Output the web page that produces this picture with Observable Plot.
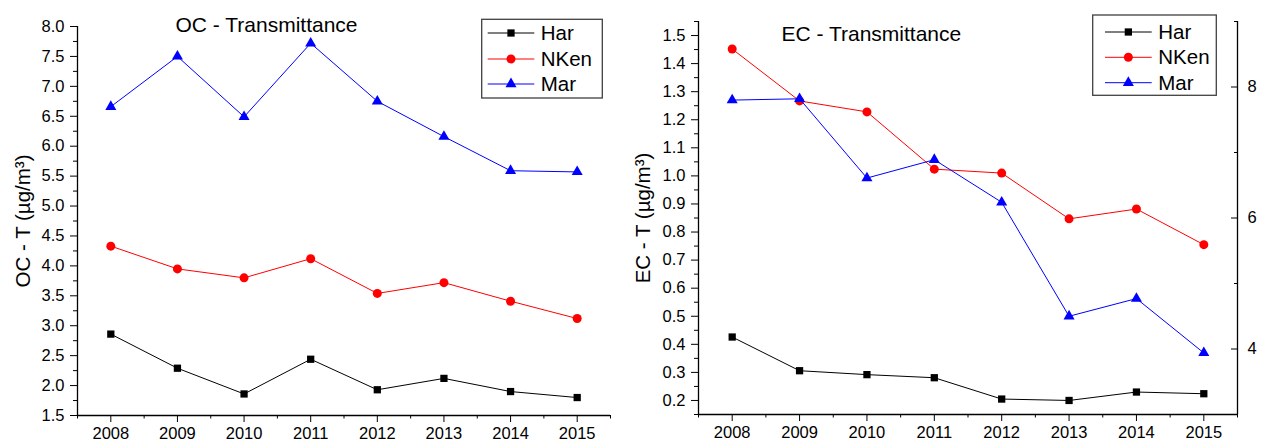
<!DOCTYPE html>
<html>
<head>
<meta charset="utf-8">
<script src="https://cdn.jsdelivr.net/npm/d3@7"></script>
<script src="https://cdn.jsdelivr.net/npm/@observablehq/plot@0.6"></script>
<style>
  html, body { margin: 0; padding: 0; background: #fff; }
  #wrap { position: relative; width: 1263px; height: 441px; overflow: hidden; background: #fff; }
  #oc, #ec { position: absolute; top: 0; }
  #oc { left: 0; }
  #ec { left: 620px; }
</style>
</head>
<body>
<div id="wrap"><div id="oc"></div><div id="ec"></div></div>
<script>
// Annual means, 2008–2015
const years = [2008, 2009, 2010, 2011, 2012, 2013, 2014, 2015];
const sites = ["Har", "NKen", "Mar"];
const siteColors = ["#000000", "#ff0000", "#0000ff"];
const siteSymbols = ["square", "circle", "triangle"];
const siteRadii = [4.1, 4.5, 4.1];

// OC by transmittance (µg/m³)
const ocHar  = [2.86, 2.29, 1.86, 2.44, 1.93, 2.12, 1.90, 1.80];
const ocNKen = [4.33, 3.95, 3.80, 4.12, 3.54, 3.72, 3.41, 3.12];
const ocMar  = [6.66, 7.50, 6.49, 7.72, 6.75, 6.16, 5.59, 5.57];

// EC by transmittance (µg/m³); Mar is read on the right-hand axis
const ecHar  = [0.426, 0.306, 0.292, 0.281, 0.205, 0.200, 0.230, 0.224];
const ecNKen = [1.452, 1.267, 1.228, 1.024, 1.010, 0.847, 0.882, 0.755];
const ecMar  = [7.80, 7.82, 6.61, 6.89, 6.24, 4.50, 4.77, 3.94];

// Axis ticks
const ocTicks = [1.5, 2.0, 2.5, 3.0, 3.5, 4.0, 4.5, 5.0, 5.5, 6.0, 6.5, 7.0, 7.5, 8.0];
const ocMinor = d3.range(7, 32, 2).map(i => i / 4);
const ecTicks = [0.2, 0.3, 0.4, 0.5, 0.6, 0.7, 0.8, 0.9, 1.0, 1.1, 1.2, 1.3, 1.4, 1.5];
const ecMinor = d3.range(3, 32, 2).map(i => i / 20);
const marTicks = [4, 6, 8];
const marMinor = [3, 5, 7, 9];
const yearMinor = d3.range(2007.5, 2016, 1);

const xDomain = [2007.5, 2015.5];
const ocDomain = [1.5, 8.0];
const ecDomain = [0.15, 1.55];
const marDomain = [3, 9];

// right-hand axis values mapped onto the left EC scale
const marToEc = d3.scaleLinear().domain(marDomain).range(ecDomain);

const FONT = "'Liberation Sans', Arial, Helvetica, sans-serif";
const fmt1 = d3.format(".1f");

function rows(values, site) {
  return years.map((year, i) => ({year, site, value: values[i]}));
}

function seriesMarks(seriesList) {
  const out = [];
  seriesList.forEach((data, k) => {
    out.push(Plot.line(data, {x: "year", y: "value", stroke: siteColors[k], strokeWidth: 1}));
    out.push(Plot.dot(data, {x: "year", y: "value", fill: siteColors[k], symbol: siteSymbols[k], r: siteRadii[k]}));
  });
  return out;
}

function xAxisMarks() {
  return [
    Plot.axisX(years, {tickSize: 7, tickPadding: 5, tickFormat: d => String(d), label: null, fontSize: 16.5}),
    Plot.axisX(yearMinor, {tickSize: 3.5, fill: "none", label: null})
  ];
}

function addLegend(svg, box) {
  const g = d3.select(svg).append("g").attr("font-family", FONT).attr("text-anchor", "start");
  g.append("rect")
    .attr("x", box.x).attr("y", box.y).attr("width", box.w).attr("height", box.h)
    .attr("fill", "#fff").attr("stroke", "#404040").attr("stroke-width", 1.3);
  sites.forEach((name, k) => {
    const cy = box.rowY[k];
    g.append("line")
      .attr("x1", box.lineX1).attr("x2", box.lineX2).attr("y1", cy).attr("y2", cy)
      .attr("stroke", siteColors[k]).attr("stroke-width", 1);
    const typ = siteSymbols[k] === "square" ? d3.symbolSquare : siteSymbols[k] === "circle" ? d3.symbolCircle : d3.symbolTriangle;
    g.append("path")
      .attr("d", d3.symbol().type(typ).size(Math.PI * siteRadii[k] * siteRadii[k])())
      .attr("transform", `translate(${(box.lineX1 + box.lineX2) / 2},${cy})`)
      .attr("fill", siteColors[k]);
    g.append("text")
      .attr("x", box.textX).attr("y", cy).attr("dy", "0.35em")
      .attr("text-anchor", "start")
      .attr("font-size", 20.5).attr("fill", "#000")
      .text(name);
  });
}

// ---- OC panel ----
const ocSeries = [rows(ocHar, "Har"), rows(ocNKen, "NKen"), rows(ocMar, "Mar")];
const ocPlot = Plot.plot({
  width: 620, height: 441,
  marginLeft: 77, marginRight: 10, marginTop: 26, marginBottom: 26,
  style: {fontFamily: FONT, fontSize: "16.5px", color: "#000", background: "#fff", overflow: "visible"},
  x: {domain: xDomain},
  y: {domain: ocDomain},
  marks: [
    Plot.ruleX([xDomain[0]], {strokeWidth: 1.3}),
    Plot.ruleY([ocDomain[0]], {strokeWidth: 1.3}),
    ...xAxisMarks(),
    Plot.axisY(ocTicks, {tickSize: 7, tickPadding: 6, tickFormat: fmt1, label: null, fontSize: 16.5}),
    Plot.axisY(ocMinor, {tickSize: 4, fill: "none", label: null}),
    Plot.text(["OC - T (µg/m³)"], {frameAnchor: "left", rotate: -90, dx: -62, lineAnchor: "top", textAnchor: "middle", fontSize: 20.5}),
    Plot.text(["OC - Transmittance"], {frameAnchor: "top-left", dx: 98, dy: 5, textAnchor: "start", lineAnchor: "bottom", fontSize: 21}),
    ...seriesMarks(ocSeries)
  ]
});
document.getElementById("oc").appendChild(ocPlot);
addLegend(ocPlot, {x: 481.7, y: 19.3, w: 120.6, h: 78.7, rowY: [33, 59, 84], lineX1: 487.7, lineX2: 534.3, textX: 540.7});

// ---- EC panel ----
const ecSeries = [
  rows(ecHar, "Har"),
  rows(ecNKen, "NKen"),
  rows(ecMar, "Mar").map(d => ({...d, value: marToEc(d.value)}))
];
const ecPlot = Plot.plot({
  width: 643, height: 441,
  marginLeft: 78, marginRight: 26, marginTop: 21, marginBottom: 27,
  style: {fontFamily: FONT, fontSize: "16.5px", color: "#000", background: "#fff", overflow: "visible"},
  x: {domain: xDomain},
  y: {domain: ecDomain},
  marks: [
    Plot.ruleX([xDomain[0]], {strokeWidth: 1.3}),
    Plot.ruleX([xDomain[1]], {strokeWidth: 1.3}),
    Plot.ruleY([ecDomain[0]], {strokeWidth: 1.3}),
    ...xAxisMarks(),
    Plot.axisY(ecTicks, {tickSize: 7, tickPadding: 6, tickFormat: fmt1, label: null, fontSize: 16.5}),
    Plot.axisY(ecMinor, {tickSize: 4, fill: "none", label: null}),
    // right-hand axis: ticks point inward
    Plot.axisY(marTicks.map(marToEc), {anchor: "right", tickSize: 7, dx: -7, fill: "none", label: null}),
    Plot.axisY(marMinor.map(marToEc), {anchor: "right", tickSize: 4, dx: -4, fill: "none", label: null}),
    Plot.axisY(marTicks.map(marToEc), {anchor: "right", tickSize: 0, tickPadding: 10, label: null, fontSize: 16.5,
      tickFormat: d => String(Math.round(marToEc.invert(d)))}),
    Plot.text(["EC - T (µg/m³)"], {frameAnchor: "left", rotate: -90, dx: -63, lineAnchor: "top", textAnchor: "middle", fontSize: 20.5}),
    Plot.text(["EC - Transmittance"], {frameAnchor: "top-left", dx: 83, dy: 19, textAnchor: "start", lineAnchor: "bottom", fontSize: 21}),
    ...seriesMarks(ecSeries)
  ]
});
document.getElementById("ec").appendChild(ecPlot);
addLegend(ecPlot, {x: 472.7, y: 15, w: 123.6, h: 80.3, rowY: [32, 57.3, 82.7], lineX1: 485, lineX2: 531.7, textX: 538.3});
</script>
</body>
</html>
